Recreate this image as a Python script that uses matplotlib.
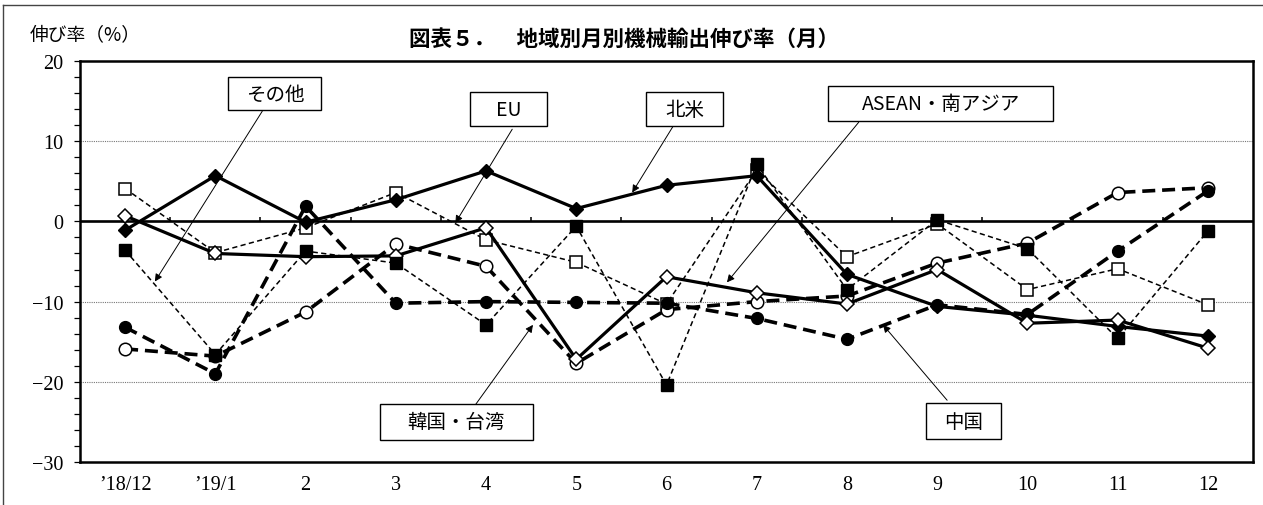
import numpy as np
import matplotlib
matplotlib.use("Agg")
import matplotlib.pyplot as plt
from matplotlib.patches import Rectangle
from matplotlib.lines import Line2D

plt.rcParams['font.family'] = ['Noto Sans CJK JP', 'DejaVu Sans']

# 月 (x軸カテゴリ)
months = ["’18/12", "’19/1", "2", "3", "4", "5", "6", "7", "8", "9", "10", "11", "12"]

# 地域別 機械輸出伸び率 (%)
north_america = [-1.1, 5.7, -0.1, 2.7, 6.3, 1.6, 4.5, 5.7, -6.6, -10.6, -11.7, -13.1, -14.3]
eu = [4.1, -3.9, -0.8, 3.6, -2.3, -5.1, -10.3, 6.4, -4.4, -0.3, -8.5, -5.9, -10.4]
asean_south_asia = [0.7, -4.0, -4.4, -4.3, -0.8, -17.2, -6.9, -8.9, -10.3, -6.0, -12.7, -12.3, -15.8]
china = [-13.2, -19.0, 1.9, -10.2, -10.0, -10.1, -10.2, -12.1, -14.7, -10.4, -11.6, -3.7, 3.8]
korea_taiwan = [-15.9, -16.8, -11.3, -2.8, -5.6, -17.7, -11.0, -10.0, -9.3, -5.2, -2.7, 3.6, 4.2]
others = [-3.6, -16.6, -3.7, -5.2, -12.9, -0.6, -20.4, 7.1, -8.5, 0.2, -3.4, -14.6, -1.2]

region_names = ["北米", "EU", "ASEAN・南アジア", "中国", "韓国・台湾", "その他"]

fig = plt.figure(figsize=(12.63, 5.06), dpi=100)
ax = fig.add_axes([80 / 1263, 1 - 463 / 506, (1253 - 80) / 1263, (463 - 62) / 506])

x = np.arange(len(months))

thin_dash = dict(lw=1.1, dashes=(3.4, 2.2), color='black')
thick_dash = dict(lw=2.6, dashes=(3.6, 1.9), color='black')
solid = dict(lw=2.3, ls='-', color='black')

# 系列 (描画順)
ax.plot(x, eu, marker='s', ms=8, mfc='white', mec='black', mew=1.1, zorder=3, **thin_dash)
ax.plot(x, korea_taiwan, marker='o', ms=9, mfc='white', mec='black', mew=1.1, zorder=4, **thick_dash)
ax.plot(x, china, marker='o', ms=8.5, mfc='black', mec='black', zorder=5, **thick_dash)
ax.plot(x, north_america, marker='D', ms=7.5, mfc='black', mec='black', zorder=6, **solid)
ax.plot(x, asean_south_asia, marker='D', ms=7.5, mfc='white', mec='black', mew=1.1, zorder=7, **solid)
ax.plot(x, others, marker='s', ms=8, mfc='black', mec='black', zorder=8, **thin_dash)

# 軸
ax.set_xlim(-0.5, len(months) - 0.5)
ax.set_ylim(-30, 20)
ax.set_yticks(np.arange(-30, 21, 10))
ax.set_yticks(np.arange(-30, 21, 2), minor=True)
ax.set_yticklabels([("−" + str(-v)) if v < 0 else str(v) for v in range(-30, 21, 10)],
                   family=['Liberation Serif'], fontsize=14.5)
ax.tick_params(axis='y', which='both', direction='out', length=4, width=0.9, pad=8)
ax.set_xticks(x)
ax.set_xticklabels(months, family=['Liberation Serif'], fontsize=14.5)
ax.tick_params(axis='x', length=0, pad=9)

for s in ax.spines.values():
    s.set_linewidth(1.8)
    s.set_color('black')

# 目盛線
for gy in (10, -10, -20):
    ax.axhline(gy, color='#777777', lw=0.8, ls=(0, (1, 1)), zorder=1)
ax.axhline(0, color='black', lw=1.9, zorder=2)
ax.vlines(np.arange(0.5, len(months) - 1, 1), 0, 0.6, color='black', lw=1.1, zorder=2)

# 系列ラベルと引出線
label_box = {
    "その他": (1.66, 15.9, 1.03, 4.1),
    "EU": (4.25, 14.0, 0.86, 4.2),
    "北米": (6.2, 14.0, 0.85, 4.2),
    "ASEAN・南アジア": (9.04, 14.7, 2.49, 4.3),
    "韓国・台湾": (3.67, -25.0, 1.70, 4.4),
    "中国": (9.29, -24.9, 0.83, 4.4),
}
label_arrow = {
    "その他": ((1.52, 13.74), (0.33, -7.5)),
    "EU": ((4.29, 11.49), (3.66, -0.2)),
    "北米": ((6.08, 11.99), (5.62, 3.6)),
    "ASEAN・南アジア": ((8.13, 12.36), (6.67, -7.6)),
    "韓国・台湾": ((3.88, -22.9), (4.52, -12.9)),
    "中国": ((9.11, -22.3), (8.4, -12.9)),
}
for name in region_names:
    cx, cy, w, h = label_box[name]
    ax.add_patch(Rectangle((cx - w / 2, cy - h / 2), w, h, facecolor='white',
                           edgecolor='black', lw=1.0, zorder=10))
    ax.text(cx, cy, name, ha='center', va='center', fontsize=14, zorder=11)
    start, end = label_arrow[name]
    ax.annotate('', xy=end, xytext=start, zorder=9,
                arrowprops=dict(arrowstyle='-|>', color='black', lw=0.7,
                                mutation_scale=11, shrinkA=0, shrinkB=0))

# タイトル・軸ラベル
fig.text(0.494, 1 - 39.5 / 506, "図表５．　地域別月別機械輸出伸び率（月）",
         ha='center', va='center', fontsize=15.5, fontweight='bold')
fig.text(30 / 1263, 1 - 35 / 506, "伸び率（%）", ha='left', va='center', fontsize=13.5)

# 外枠
fig.add_artist(Line2D([3 / 1263, 3 / 1263], [0, 1 - 6 / 506], transform=fig.transFigure,
                      color='#444444', lw=1.0))
fig.add_artist(Line2D([3 / 1263, 1], [1 - 6 / 506, 1 - 6 / 506], transform=fig.transFigure,
                      color='#444444', lw=1.0))

fig.savefig("out.png", dpi=100)
